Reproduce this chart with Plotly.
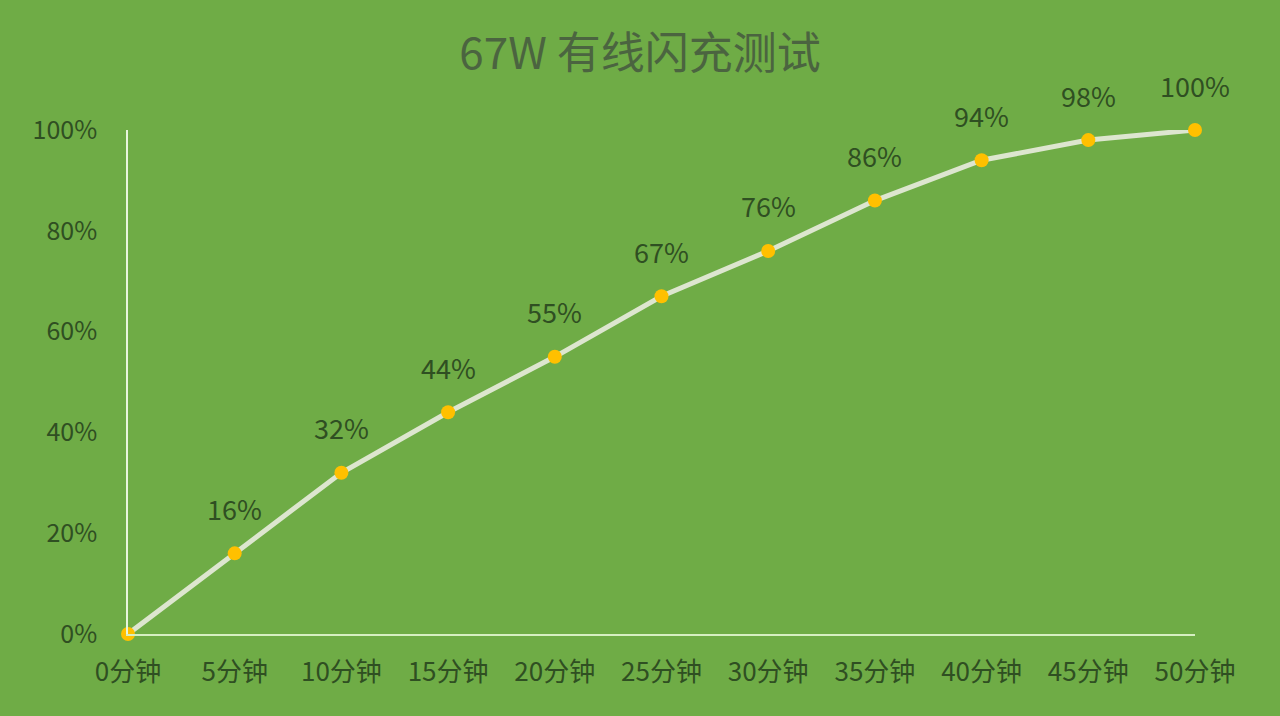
import plotly.graph_objects as go

# 充电时间与电量
minutes = ["0分钟", "5分钟", "10分钟", "15分钟", "20分钟", "25分钟",
           "30分钟", "35分钟", "40分钟", "45分钟", "50分钟"]
battery = [0.00, 0.16, 0.32, 0.44, 0.55, 0.67, 0.76, 0.86, 0.94, 0.98, 1.00]
labels = ["", "16%", "32%", "44%", "55%", "67%", "76%", "86%", "94%", "98%", "100%"]

BG = "#6fac46"
TEXT = "#2f4f22"
FONT = "Noto Sans CJK SC, Noto Sans, sans-serif"

fig = go.Figure()
fig.add_trace(go.Scatter(
    x=minutes, y=battery,
    mode="lines+markers",
    line=dict(color="#dde6cf", width=5),
    marker=dict(color="#ffc000", size=14),
    cliponaxis=False,
    hoverinfo="skip",
))

# 数据标签
for m, v, t in zip(minutes, battery, labels):
    if t:
        fig.add_annotation(x=m, y=v, text=t, showarrow=False, yshift=45,
                           font=dict(size=27, color=TEXT, family=FONT))

fig.update_layout(
    width=1280, height=716,
    paper_bgcolor=BG, plot_bgcolor=BG,
    margin=dict(l=128, r=85, t=130, b=82),
    showlegend=False,
    title=dict(text="67W 有线闪充测试", x=0.5, xanchor="center", y=0.925, yanchor="middle",
               font=dict(size=44, color="#4b6440", family=FONT)),
    font=dict(family=FONT, color=TEXT),
    xaxis=dict(type="category", range=[0, 10], showgrid=False, zeroline=False,
               showline=True, linecolor="#d6efc2", linewidth=2,
               ticks="", ticklabelstandoff=14,
               tickfont=dict(size=26, color=TEXT)),
    yaxis=dict(range=[0, 1], tickformat=".0%", dtick=0.2, showgrid=False, zeroline=False,
               showline=True, linecolor="#e8f5dc", linewidth=1.5,
               ticks="", ticklabelstandoff=24,
               tickfont=dict(size=25, color=TEXT)),
)

# 去掉页面默认边距，让图表铺满窗口
fig.write_html("out.html", config={"displayModeBar": False},
               post_script="document.body.style.margin='0';")
